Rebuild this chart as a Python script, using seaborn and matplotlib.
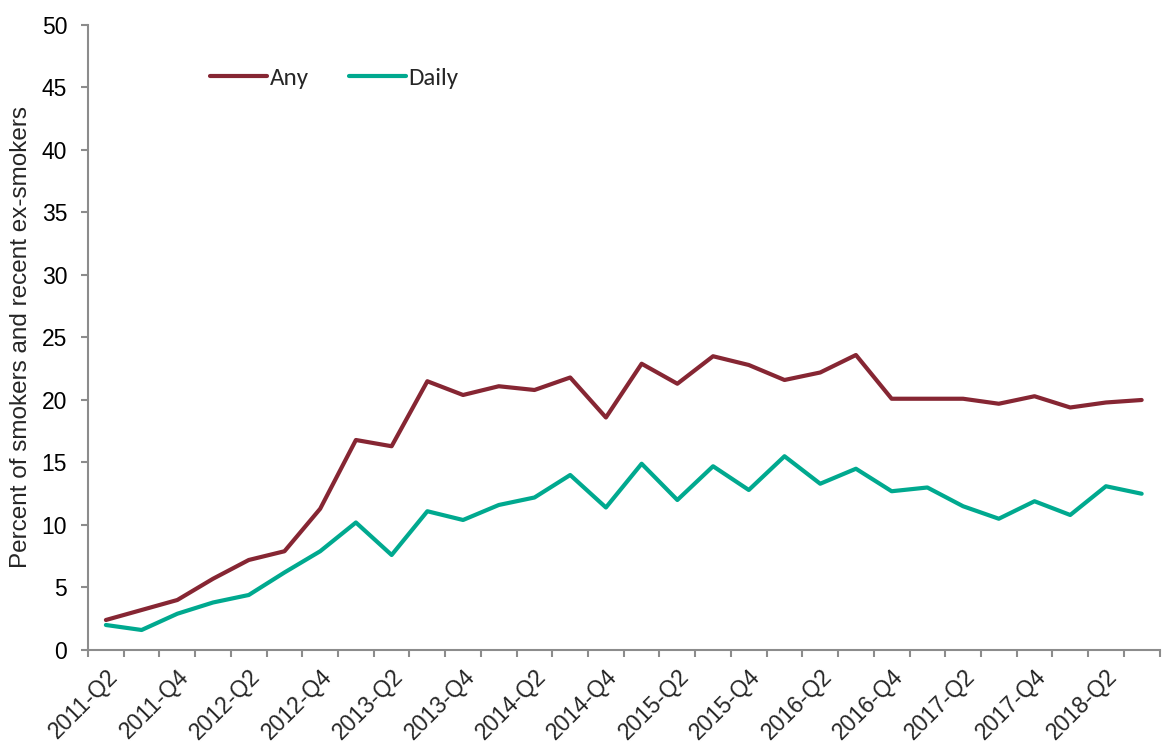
import numpy as np
import matplotlib
matplotlib.use("Agg")
import matplotlib.pyplot as plt
import matplotlib.transforms as mtransforms
import seaborn as sns
import pandas as pd

quarters = [f"{y}-Q{q}" for y in range(2011, 2019) for q in range(1, 5)][1:31]
any_use = [2.4, 3.2, 4.0, 5.7, 7.2, 7.9, 11.3, 16.8, 16.3, 21.5,
           20.4, 21.1, 20.8, 21.8, 18.6, 22.9, 21.3, 23.5, 22.8, 21.6,
           22.2, 23.6, 20.1, 20.1, 20.1, 19.7, 20.3, 19.4, 19.8, 20.0]
daily_use = [2.0, 1.6, 2.9, 3.8, 4.4, 6.2, 7.9, 10.2, 7.6, 11.1,
             10.4, 11.6, 12.2, 14.0, 11.4, 14.9, 12.0, 14.7, 12.8, 15.5,
             13.3, 14.5, 12.7, 13.0, 11.5, 10.5, 11.9, 10.8, 13.1, 12.5]

df = pd.DataFrame({
    'idx': list(range(len(quarters))) * 2,
    'value': any_use + daily_use,
    'series': ['Any'] * len(quarters) + ['Daily'] * len(quarters),
})

sns.set_style('white')
plt.rcParams['font.family'] = ['Liberation Sans', 'DejaVu Sans']

fig = plt.figure(figsize=(11.63, 7.46), dpi=100)
ax = fig.add_axes([0.0757, 0.1287, 0.9213, 0.8378])

sns.lineplot(data=df, x='idx', y='value', hue='series',
             palette={'Any': '#862633', 'Daily': '#00A98F'},
             linewidth=3.0, ax=ax, legend=True)

n = len(quarters)
ax.set_xlim(-0.5, n - 0.5)
ax.set_ylim(0, 50)
ax.set_yticks(range(0, 51, 5))
ax.tick_params(axis='y', labelsize=16.5, length=5, width=1.5, color='#8c8c8c',
               direction='out', left=True, pad=10, labelcolor='black')

ax.set_xticks(range(0, n, 2))
ax.set_xticklabels(quarters[0::2], rotation=45, ha='right', rotation_mode='anchor', fontsize=16.5)
offset = mtransforms.ScaledTranslation(6 / 100, 0, fig.dpi_scale_trans)
for lbl in ax.get_xticklabels():
    lbl.set_transform(lbl.get_transform() + offset)
ax.set_xticks(np.arange(-0.5, n, 1), minor=True)
ax.tick_params(axis='x', which='major', length=0, pad=11)
ax.tick_params(axis='x', which='minor', length=5, width=1.5, color='#8c8c8c',
               direction='out', bottom=True)

ax.set_xlabel('')
ax.set_ylabel('Percent of smokers and recent ex-smokers', fontsize=17.5)
ax.yaxis.set_label_coords(-0.0523, 0.5)

for s in ['top', 'right']:
    ax.spines[s].set_visible(False)
for s in ['left', 'bottom']:
    ax.spines[s].set_color('#8c8c8c')
    ax.spines[s].set_linewidth(1.5)

handles, labels = ax.get_legend_handles_labels()
for h in handles:
    h.set_linewidth(3.0)
    h.set_solid_capstyle('round')
ax.legend(handles, labels, loc='center left', bbox_to_anchor=(210 / 1163, 1 - 78 / 746),
          bbox_transform=fig.transFigure, ncol=2, frameon=False, borderpad=0,
          borderaxespad=0, handlelength=2.27, handletextpad=0.12, columnspacing=1.6,
          prop={'family': ['Carlito', 'DejaVu Sans'], 'size': 18})

fig.savefig('out.png', dpi=100)
